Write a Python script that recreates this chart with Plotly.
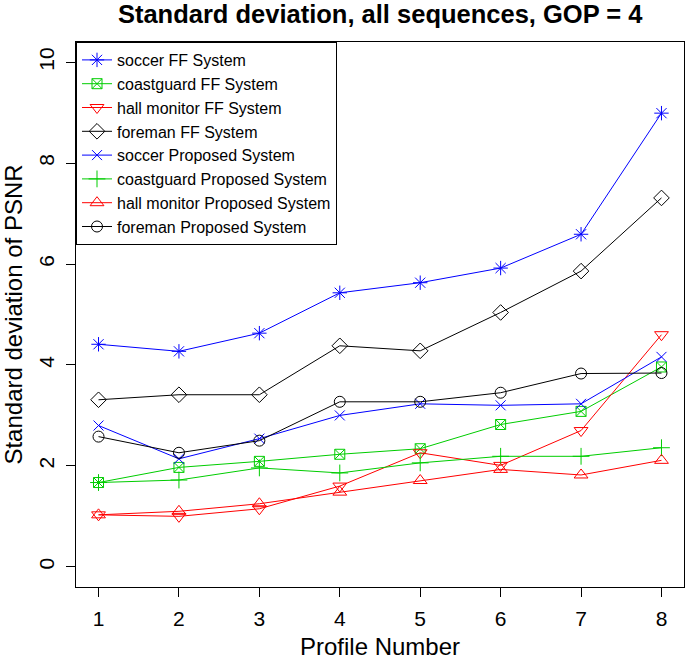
import plotly.graph_objects as go

profiles = [1, 2, 3, 4, 5, 6, 7, 8]

soccer_ff = [4.41, 4.27, 4.63, 5.43, 5.63, 5.92, 6.59, 8.99]
coastguard_ff = [1.67, 1.97, 2.09, 2.23, 2.34, 2.82, 3.08, 3.96]
hall_ff = [1.03, 1.00, 1.15, 1.60, 2.26, 2.01, 2.70, 4.60]
foreman_ff = [3.31, 3.41, 3.41, 4.38, 4.28, 5.04, 5.86, 7.31]
soccer_prop = [2.80, 2.14, 2.54, 3.00, 3.23, 3.20, 3.23, 4.16]
coastguard_prop = [1.67, 1.72, 1.96, 1.86, 2.06, 2.19, 2.19, 2.36]
hall_prop = [1.03, 1.10, 1.25, 1.48, 1.71, 1.93, 1.82, 2.11]
foreman_prop = [2.58, 2.26, 2.50, 3.27, 3.27, 3.45, 3.83, 3.84]

series_names = [
    "soccer FF System", "coastguard FF System", "hall monitor FF System", "foreman FF System",
    "soccer Proposed System", "coastguard Proposed System", "hall monitor Proposed System",
    "foreman Proposed System",
]
series_values = [soccer_ff, coastguard_ff, hall_ff, foreman_ff,
                 soccer_prop, coastguard_prop, hall_prop, foreman_prop]

BLUE, GREEN, RED, BLACK = "#0000FF", "#00CD00", "#FF0000", "#000000"
styles = [
    (BLUE, "asterisk-open", 12),
    (GREEN, "square-x-open", 10),
    (RED, "triangle-down-open", 12),
    (BLACK, "diamond-open", 12),
    (BLUE, "x-thin-open", 10),
    (GREEN, "cross-thin-open", 12),
    (RED, "triangle-up-open", 12),
    (BLACK, "circle-open", 11),
]

FONT = "Liberation Sans, Arial, Helvetica, sans-serif"

fig = go.Figure()
for name, vals, (col, sym, sz) in zip(series_names, series_values, styles):
    fig.add_trace(go.Scatter(
        x=profiles, y=vals, name=name, mode="lines+markers",
        line=dict(color=col, width=1),
        marker=dict(symbol=sym, size=sz, color=col, line=dict(color=col, width=1)),
    ))

fig.update_layout(
    width=685, height=663,
    margin=dict(l=76, r=1, t=42, b=76, autoexpand=False),
    paper_bgcolor="white", plot_bgcolor="white",
    font=dict(family=FONT, color="black"),
    title=dict(text="<b>Standard deviation, all sequences, GOP = 4</b>",
               font=dict(size=25.5, family=FONT, color="black"),
               x=0.555, xanchor="center", y=1 - 14 / 663, yanchor="middle",
               automargin=False),
    showlegend=True,
    legend=dict(x=0, y=1, xanchor="left", yanchor="top",
                bgcolor="white", bordercolor="black", borderwidth=1,
                font=dict(size=16, family=FONT, color="black"),
                tracegroupgap=0),
)
fig.update_xaxes(
    range=[0.72, 8.28], tickvals=profiles, ticktext=[str(p) for p in profiles],
    showgrid=False, zeroline=False, showline=True, mirror=True, automargin=False,
    linecolor="black", linewidth=1, ticks="outside", ticklen=9, tickcolor="black",
    tickfont=dict(size=21, family=FONT), ticklabelstandoff=4,
    title=dict(text="Profile Number", font=dict(size=24, family=FONT), standoff=8),
)
fig.update_yaxes(
    range=[-0.4, 10.4], tickvals=[0, 2, 4, 6, 8, 10],
    showgrid=False, zeroline=False, showline=True, mirror=True, automargin=False,
    linecolor="black", linewidth=1, ticks="outside", ticklen=9, tickcolor="black",
    tickangle=-90, tickfont=dict(size=21, family=FONT), ticklabelstandoff=4,
    title=dict(text="Standard deviation of PSNR", font=dict(size=24, family=FONT), standoff=6),
)

fig.write_html("out.html", config={"displayModeBar": False},
               post_script="document.body.style.margin='0';document.body.style.overflow='hidden';")
